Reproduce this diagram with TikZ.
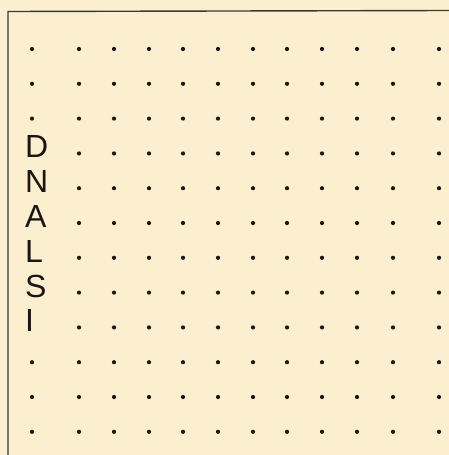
\documentclass[tikz,border=0pt]{standalone}
\usepackage{fontspec}
\setmainfont{Liberation Sans}
\definecolor{paper}{RGB}{251,239,208}
\definecolor{ink}{RGB}{25,22,20}
\begin{document}
\begin{tikzpicture}[x=1pt,y=-1pt,
  letter/.style={anchor=base west,inner sep=0pt,font=\fontsize{32}{32}\selectfont,text=ink}]
  \fill[paper] (0,0) rectangle (449,455);
  \useasboundingbox (0,0) rectangle (449,455);
  \draw[ink!85,line width=1.4pt] (8,455) -- (8,11.5) -- (449,10.5);
  \foreach \r in {0,...,11}{
    \foreach \c in {32,79,114,149,183,218,253,287,322,357,393,439}{
      \ifnum\r>2 \ifnum\r<9 \ifnum\c=32 \else
        \fill[ink] (\c,49+34.8*\r) circle (2.1);
      \fi \else \fill[ink] (\c,49+34.8*\r) circle (2.1); \fi
      \else \fill[ink] (\c,49+34.8*\r) circle (2.1); \fi
    }
  }
  \foreach \l [count=\i from 3] in {D,N,A,L,S,I}{
    \node[letter] (let\l) at (25,49+34.8*\i+4.5) {\l};
  }
\end{tikzpicture}
\end{document}
